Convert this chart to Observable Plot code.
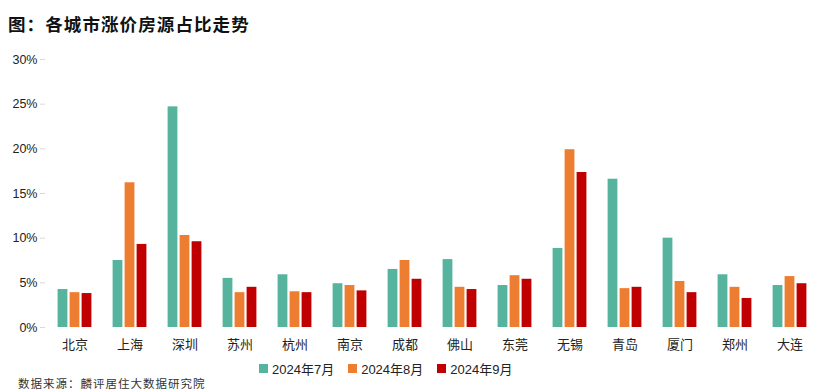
<!DOCTYPE html>
<html>
<head>
<meta charset="utf-8">
<script src="https://cdn.jsdelivr.net/npm/d3@7"></script>
<script src="https://cdn.jsdelivr.net/npm/@observablehq/plot@0.6"></script>
<style>
  body { margin: 0; background: #fff; width: 830px; height: 392px; position: relative; overflow: hidden; }
  #title { position: absolute; left: 8px; top: 11px; font-family: "Noto Sans CJK SC", sans-serif; font-weight: 700; font-size: 17.5px; color: #111; letter-spacing: 1.1px; }
  #chart { position: absolute; left: 0; top: 45px; }
  #legend { position: absolute; left: 259px; top: 359px; display: flex; gap: 14px; font-family: "Liberation Sans", "Noto Sans CJK SC", sans-serif; font-size: 13px; color: #222; }
  #legend .item { display: flex; align-items: center; }
  #legend .sw { width: 9px; height: 9px; margin-right: 4px; }
  #source { position: absolute; left: 18px; top: 375px; font-family: "Noto Sans CJK SC", sans-serif; font-size: 11.5px; color: #333; letter-spacing: 1px; }
</style>
</head>
<body>
<div id="title">图：各城市涨价房源占比走势</div>
<div id="chart"></div>
<div id="legend"></div>
<div id="source">数据来源：麟评居住大数据研究院</div>
<script>
const cities = ["北京","上海","深圳","苏州","杭州","南京","成都","佛山","东莞","无锡","青岛","厦门","郑州","大连"];
const seriesNames = ["2024年7月","2024年8月","2024年9月"];
const jul = [4.25, 7.5, 24.7, 5.5, 5.9, 4.9, 6.5, 7.6, 4.7, 8.85, 16.6, 10.0, 5.9, 4.7];
const aug = [3.9, 16.2, 10.3, 3.9, 4.0, 4.7, 7.5, 4.5, 5.8, 19.9, 4.35, 5.15, 4.5, 5.7];
const sep = [3.8, 9.3, 9.6, 4.5, 3.9, 4.1, 5.4, 4.25, 5.4, 17.35, 4.5, 3.9, 3.25, 4.9];
const colors = ["#56B49E", "#ED7D31", "#C00000"];
const yTicks = [0, 5, 10, 15, 20, 25, 30];

const seriesValues = [jul, aug, sep];
const offsets = [-12, 0, 12];
const barMarks = seriesValues.map((vals, i) =>
  Plot.barY(cities.map((c, j) => ({city: c, value: vals[j]})), {
    x: "city", y: "value", fill: colors[i], dx: offsets[i], insetLeft: 22.6, insetRight: 22.6
  })
);

const chart = Plot.plot({
  width: 830,
  height: 312,
  marginTop: 14,
  marginBottom: 30,
  marginLeft: 45,
  marginRight: 12,
  style: {fontFamily: "Liberation Sans, Arial, sans-serif", background: "#fff"},
  x: {domain: cities, padding: 0, axis: null},
  y: {domain: [0, 30], axis: null},
  marks: [
    ...barMarks,
    Plot.axisY({ticks: yTicks, tickFormat: d => d + "%", tickSize: 5, tickPadding: 3, stroke: "#d9d9d9", fill: "#222", fontSize: 12.5, line: true, label: null}),
    Plot.axisX({tickSize: 0, tickPadding: 12, stroke: "#d9d9d9", strokeWidth: 1.5, fill: "#222", fontSize: 13, fontFamily: "Noto Sans CJK SC", line: true, label: null})
  ]
});
document.getElementById("chart").appendChild(chart);

const legend = document.getElementById("legend");
seriesNames.forEach((n, i) => {
  const it = document.createElement("div");
  it.className = "item";
  it.innerHTML = `<span class="sw" style="background:${colors[i]}"></span><span>${n}</span>`;
  legend.appendChild(it);
});
</script>
</body>
</html>
